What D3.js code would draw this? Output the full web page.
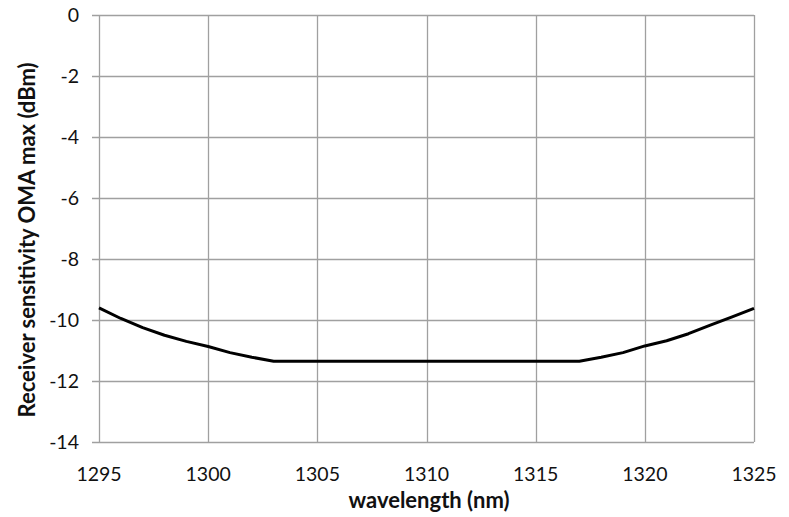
<!DOCTYPE html>
<html>
<head>
<meta charset="utf-8">
<script src="https://cdn.jsdelivr.net/npm/d3@7"></script>
<style>
body { margin: 0; background: #fff; }
text { font-family: Lato, "Open Sans", sans-serif; fill: #111; }
</style>
</head>
<body>
<div id="chart"></div>
<script>
// wavelength (nm) vs receiver sensitivity (dBm)
var wavelength = [1295, 1296, 1297, 1298, 1299, 1300, 1301, 1302, 1303, 1304,
                  1305, 1310, 1315, 1316, 1317, 1318, 1319, 1320, 1321, 1322,
                  1323, 1324, 1325]
var sensitivity = [-9.6, -9.95, -10.25, -10.5, -10.7, -10.87, -11.07, -11.22, -11.35, -11.35,
                   -11.35, -11.35, -11.35, -11.35, -11.35, -11.22, -11.07, -10.85, -10.68, -10.45,
                   -10.17, -9.9, -9.62]
var xTicks = [1295, 1300, 1305, 1310, 1315, 1320, 1325]
var yTicks = [0, -2, -4, -6, -8, -10, -12, -14]

var w = 789, h = 517
var margin = {left: 99, top: 15, right: 35, bottom: 75}

var svg = d3.select("#chart")
  .append("svg")
  .attr("width", w)
  .attr("height", h)

var x = d3.scaleLinear().domain([1295, 1325]).range([margin.left, w - margin.right])
var y = d3.scaleLinear().domain([-14, 0]).range([h - margin.bottom, margin.top])

var grid = svg.append("g")
grid.selectAll(".hgrid")
  .data(yTicks)
  .enter()
  .append("line")
  .attr("x1", margin.left - 7)
  .attr("x2", x(1325))
  .attr("y1", function(d) { return Math.round(y(d)) + 0.5 })
  .attr("y2", function(d) { return Math.round(y(d)) + 0.5 })
  .style("stroke", "#a0a0a0")
  .style("stroke-width", 1.3)

grid.selectAll(".vgrid")
  .data(xTicks)
  .enter()
  .append("line")
  .attr("x1", function(d) { return Math.round(x(d)) + 0.5 })
  .attr("x2", function(d) { return Math.round(x(d)) + 0.5 })
  .attr("y1", y(0))
  .attr("y2", y(-14))
  .style("stroke", "#a0a0a0")
  .style("stroke-width", 1.3)

// tick labels
svg.selectAll(".ylab")
  .data(yTicks)
  .enter()
  .append("text")
  .attr("x", 79)
  .attr("y", function(d) { return y(d) })
  .attr("dy", "0.35em")
  .attr("text-anchor", "end")
  .style("font-size", "19.5px")
  .text(function(d) { return d })

svg.selectAll(".xlab")
  .data(xTicks)
  .enter()
  .append("text")
  .attr("x", function(d) { return x(d) })
  .attr("y", 481)
  .attr("text-anchor", "middle")
  .style("font-size", "19.5px")
  .text(function(d) { return d })

// axis titles
svg.append("text")
  .attr("x", 429)
  .attr("y", 508)
  .attr("text-anchor", "middle")
  .style("font-size", "22px")
  .style("font-weight", "bold")
  .text("wavelength (nm)")

svg.append("text")
  .attr("transform", "translate(35," + 240 + ") rotate(-90)")
  .attr("text-anchor", "middle")
  .style("font-size", "22px")
  .style("font-weight", "bold")
  .text("Receiver sensitivity OMA max (dBm)")

var pts = wavelength.map(function(d, i) { return [d, sensitivity[i]] })
var line = d3.line()
  .x(function(d) { return x(d[0]) })
  .y(function(d) { return y(d[1]) })

svg.append("path")
  .datum(pts)
  .attr("d", line)
  .style("fill", "none")
  .style("stroke", "#000")
  .style("stroke-width", 3)
  .style("stroke-linejoin", "round")
</script>
</body>
</html>
